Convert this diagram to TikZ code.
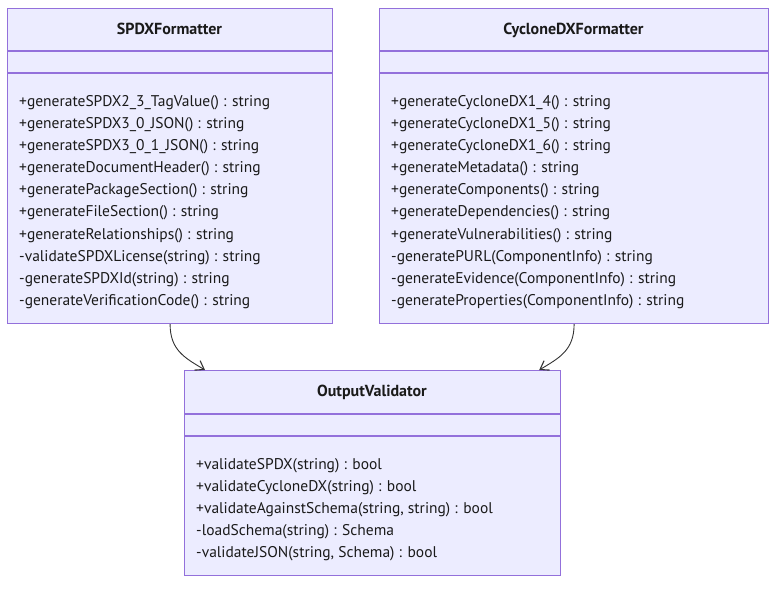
\documentclass[tikz,border=0pt]{standalone}
\usepackage{fontspec}
\setmainfont{PT Sans}
\usetikzlibrary{arrows.meta,calc}
\definecolor{boxfill}{HTML}{ECECFF}
\definecolor{boxline}{HTML}{9370DB}
\definecolor{edge}{HTML}{333333}
\definecolor{txt}{HTML}{1A1A1A}
\tikzset{
  classbox/.style={draw=boxline, fill=boxfill, line width=1.2pt, inner sep=0pt, anchor=north west},
  divider/.style={draw=boxline, line width=1.2pt},
  title/.style={font=\fontsize{16}{18}\selectfont\bfseries, text=txt, anchor=base, inner sep=0pt},
  member/.style={font=\fontsize{15.5}{18}\selectfont, text=txt, anchor=base west, inner sep=0pt},
  dep/.style={draw=edge, line width=0.9pt, -{Straight Barb[length=8pt,width=11pt,line width=1.1pt]}},
}
\begin{document}
\begin{tikzpicture}[x=1pt,y=-1pt]
\useasboundingbox (0,0) rectangle (784,590);
% SPDXFormatter
\node[classbox, minimum width=325, minimum height=315] (spdx) at (7,8) {};
\draw[divider] (7,51) -- (332,51);
\draw[divider] (7,73) -- (332,73);
\node[title] (spdxT) at (169.5,34) {SPDXFormatter};
\node[member] (s1) at (19,106) {+generateSPDX2\_3\_TagValue() : string};
\node[member] (s2) at (19,128) {+generateSPDX3\_0\_JSON() : string};
\node[member] (s3) at (19,150) {+generateSPDX3\_0\_1\_JSON() : string};
\node[member] (s4) at (19,172) {+generateDocumentHeader() : string};
\node[member] (s5) at (19,194) {+generatePackageSection() : string};
\node[member] (s6) at (19,216) {+generateFileSection() : string};
\node[member] (s7) at (19,239) {+generateRelationships() : string};
\node[member] (s8) at (19,261) {-validateSPDXLicense(string) : string};
\node[member] (s9) at (19,283) {-generateSPDXId(string) : string};
\node[member] (s10) at (19,305) {-generateVerificationCode() : string};
% CycloneDXFormatter
\node[classbox, minimum width=389, minimum height=315] (cdx) at (379,8) {};
\draw[divider] (379,51) -- (768,51);
\draw[divider] (379,73) -- (768,73);
\node[title] (cdxT) at (573.5,34) {CycloneDXFormatter};
\node[member] (c1) at (391,106) {+generateCycloneDX1\_4() : string};
\node[member] (c2) at (391,128) {+generateCycloneDX1\_5() : string};
\node[member] (c3) at (391,150) {+generateCycloneDX1\_6() : string};
\node[member] (c4) at (391,172) {+generateMetadata() : string};
\node[member] (c5) at (391,194) {+generateComponents() : string};
\node[member] (c6) at (391,216) {+generateDependencies() : string};
\node[member] (c7) at (391,239) {+generateVulnerabilities() : string};
\node[member] (c8) at (391,261) {-generatePURL(ComponentInfo) : string};
\node[member] (c9) at (391,283) {-generateEvidence(ComponentInfo) : string};
\node[member] (c10) at (391,305) {-generateProperties(ComponentInfo) : string};
% OutputValidator
\node[classbox, minimum width=376, minimum height=205] (ov) at (184,370) {};
\draw[divider] (184,414) -- (560,414);
\draw[divider] (184,436) -- (560,436);
\node[title] (ovT) at (372,396) {OutputValidator};
\node[member] (o1) at (196,469) {+validateSPDX(string) : bool};
\node[member] (o2) at (196,491) {+validateCycloneDX(string) : bool};
\node[member] (o3) at (196,513) {+validateAgainstSchema(string, string) : bool};
\node[member] (o4) at (196,535) {-loadSchema(string) : Schema};
\node[member] (o5) at (196,557) {-validateJSON(string, Schema) : bool};
% connectors
\coordinate (ovL) at ($(ov.north west)+(21,0)$);
\coordinate (ovR) at ($(ov.north east)+(-22,0)$);
\draw[dep] (spdx.south) .. controls ($(spdx.south)+(0,26)$) and ($(ovL)+(-20,-12)$) .. (ovL);
\draw[dep] (cdx.south) .. controls ($(cdx.south)+(0,26)$) and ($(ovR)+(20,-12)$) .. (ovR);
\end{tikzpicture}
\end{document}
